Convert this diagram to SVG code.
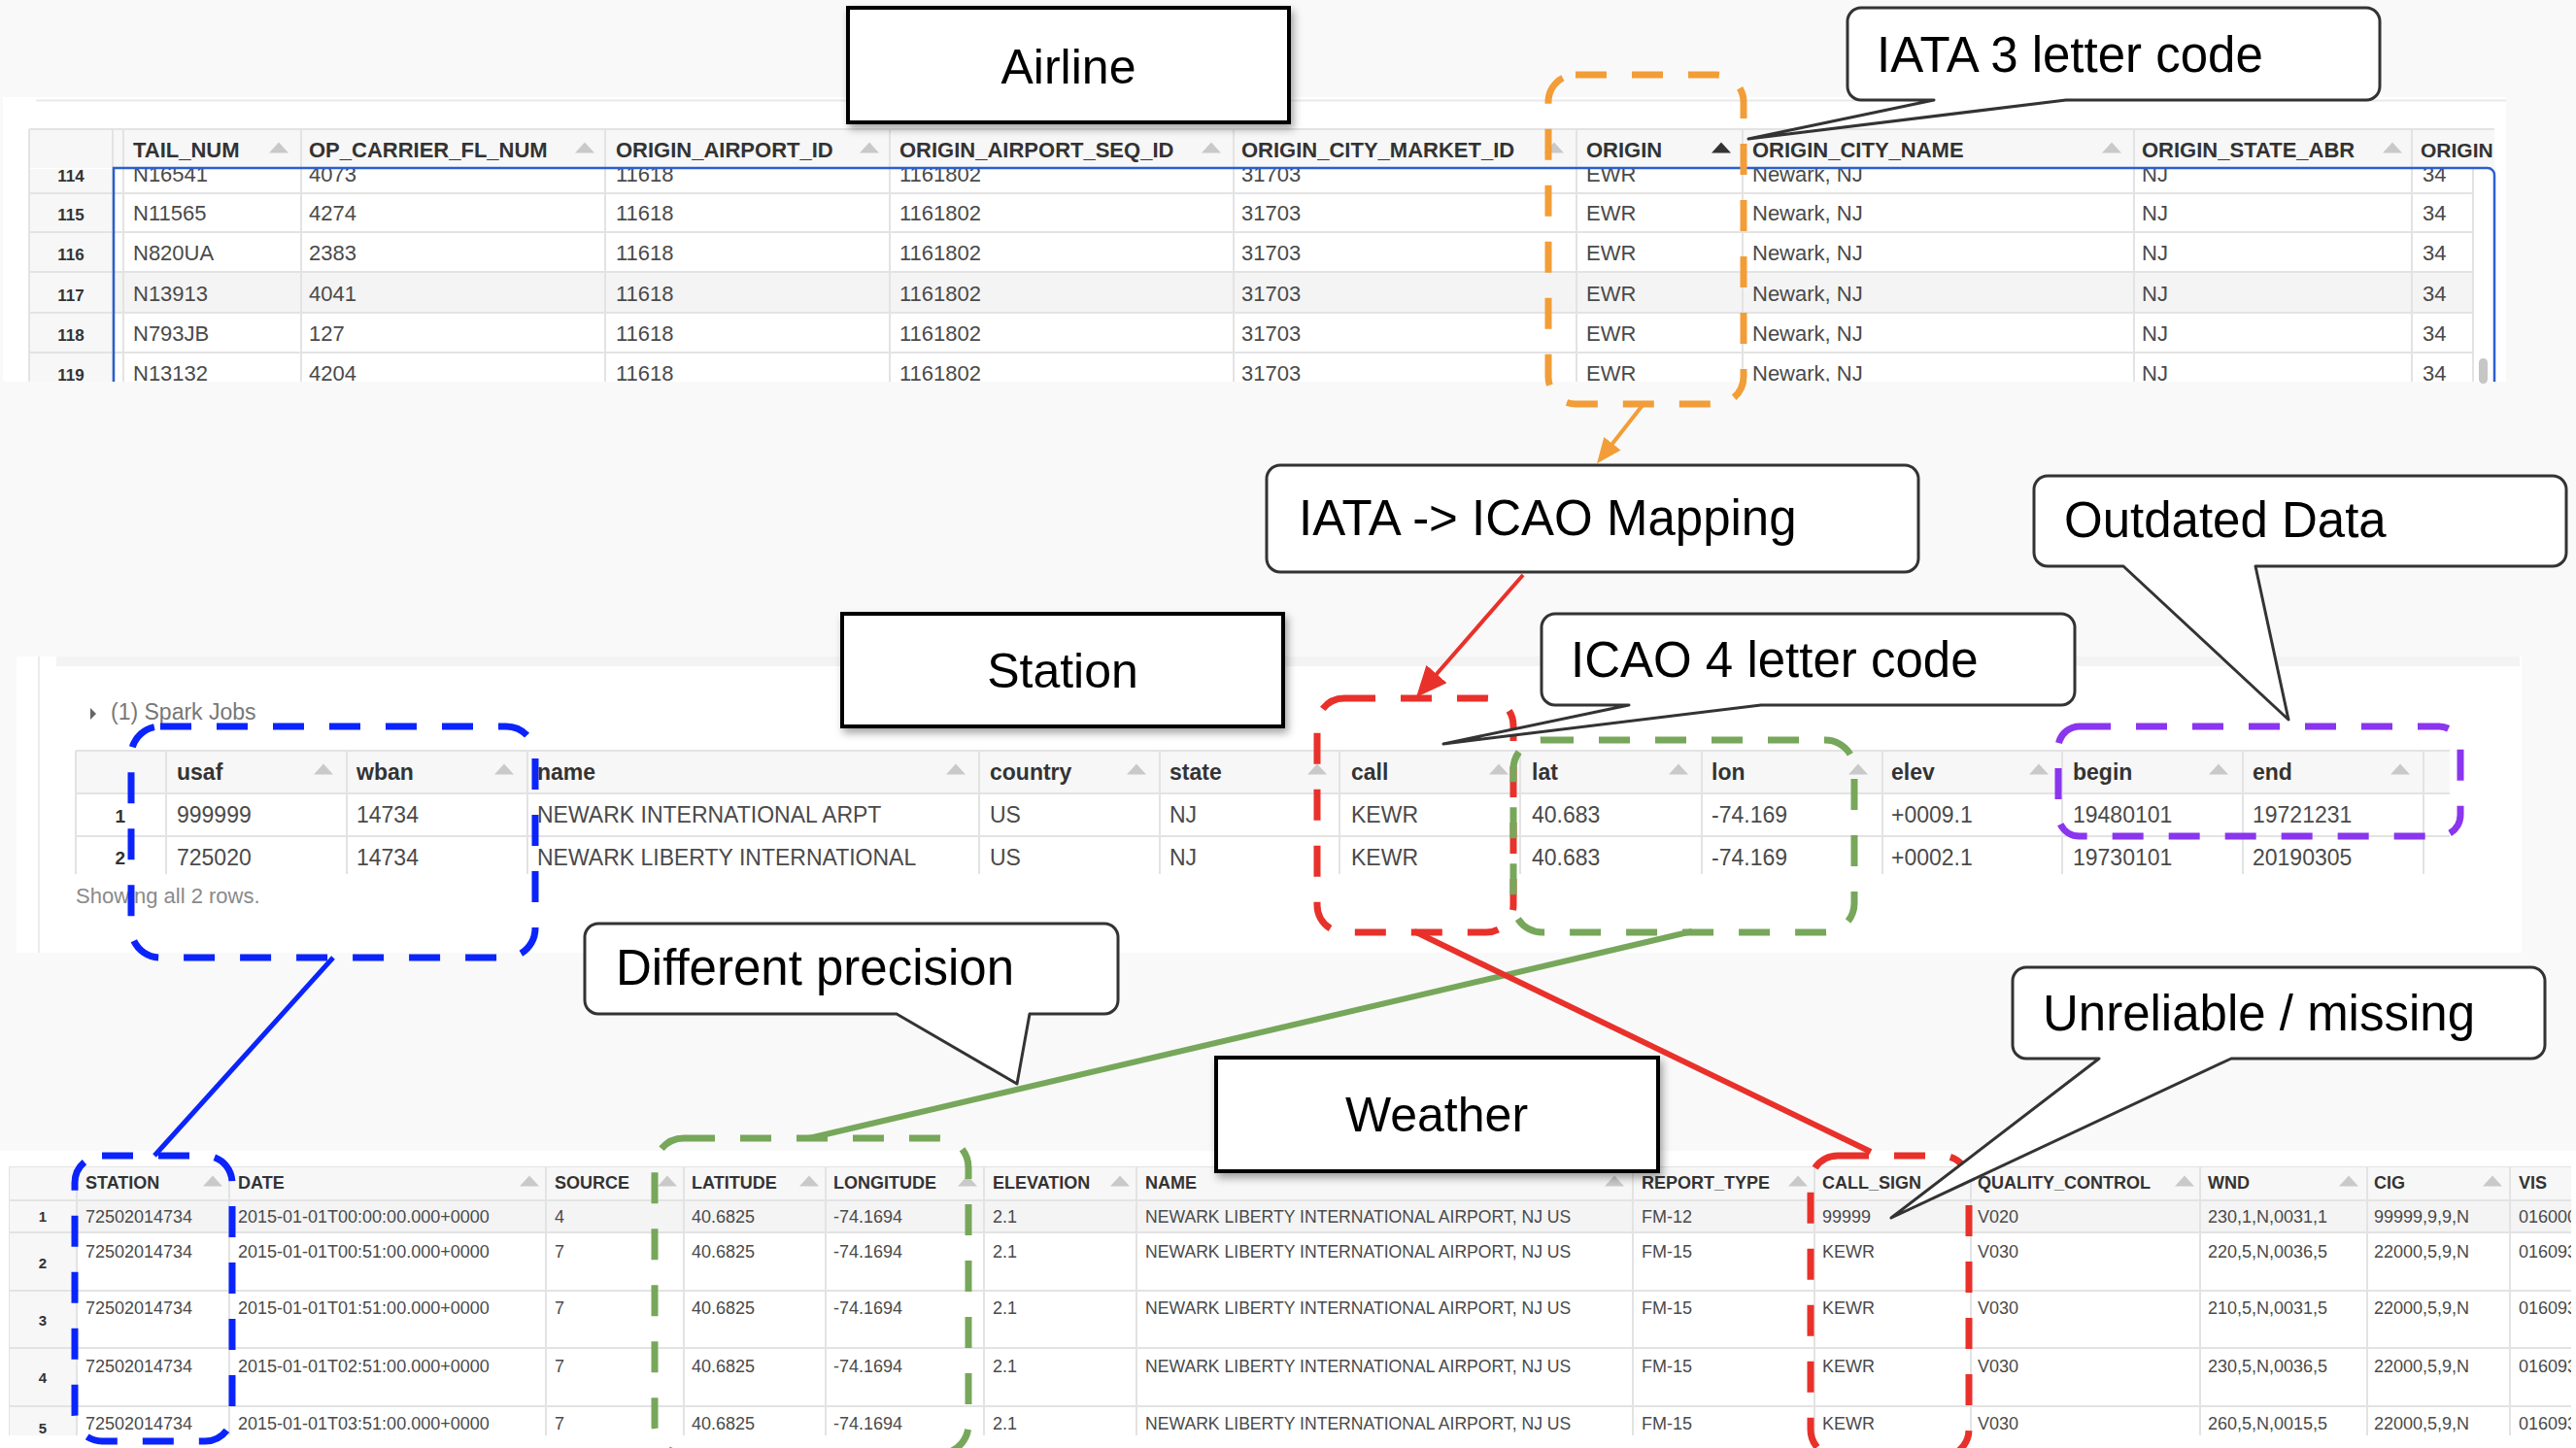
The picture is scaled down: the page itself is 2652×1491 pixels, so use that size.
<svg xmlns="http://www.w3.org/2000/svg" xmlns:xlink="http://www.w3.org/1999/xlink" width="2652" height="1491" viewBox="0 0 2652 1491">
<defs>
<style>
.t{font-family:"Liberation Sans",Arial,Helvetica,sans-serif}
.th{font-family:"Liberation Sans",Arial,sans-serif;font-weight:bold;fill:#333}
.td{font-family:"Liberation Sans",Arial,sans-serif;fill:#4a4a4a}
.rn{font-family:"Liberation Sans",Arial,sans-serif;font-weight:bold;fill:#333;text-anchor:middle}
.g{stroke:#e3e3e3;stroke-width:2;fill:none}
.srt{fill:#c9c9c9}
.tbox{fill:#fff;stroke:#000;stroke-width:4;filter:url(#sh)}
.ttl{font-family:"Liberation Sans",Arial,sans-serif;font-size:50px;fill:#000;text-anchor:middle}
.co{fill:#fff;stroke:#333;stroke-width:3;stroke-linejoin:round}
.cot{font-family:"Liberation Sans",Arial,sans-serif;font-size:51px;fill:#000}
.dash{fill:none;stroke-width:7;stroke-dasharray:32 26}
</style>
<filter id="sh" x="-10%" y="-10%" width="125%" height="135%">
<feDropShadow dx="3" dy="5" stdDeviation="4" flood-color="#000" flood-opacity="0.35"/>
</filter>
<path id="tri" d="M-10,5.5 L10,5.5 L0,-5.5 Z"/>
<marker id="arrO" markerUnits="userSpaceOnUse" markerWidth="28" markerHeight="24" refX="13" refY="11" orient="auto">
<path d="M0,0 L26,11 L0,22 Z" fill="#f29d38"/>
</marker>
<marker id="arrR" markerUnits="userSpaceOnUse" markerWidth="34" markerHeight="30" refX="16" refY="14" orient="auto">
<path d="M0,0 L32,14 L0,28 Z" fill="#e8312a"/>
</marker>
<clipPath id="cTopBody"><rect x="30" y="174" width="2538" height="219"/></clipPath>
<clipPath id="cBot"><rect x="9" y="1201" width="2638" height="277"/></clipPath>
</defs>

<rect width="2652" height="1491" fill="#f9f9f9"/>

<!-- Airline table -->
<g id="airline-table">
<rect x="3" y="100" width="2577" height="293" fill="#fff"/>
<line x1="37" y1="103.5" x2="2580" y2="103.5" stroke="#e9e9e9" stroke-width="2"/>
<rect x="30" y="133" width="2538" height="40" fill="#f7f7f7"/>
<line x1="30" y1="133" x2="2568" y2="133" class="g"/>
<g clip-path="url(#cTopBody)">
<rect x="30" y="174" width="86" height="219" fill="#f7f7f7"/>
<rect x="116" y="280" width="2430" height="42" fill="#f4f4f4"/>
<path class="g" d="M30,199H2546M30,239H2546M30,280H2546M30,322H2546M30,363H2546"/>
<text class="rn" font-size="17"><tspan x="73" y="187">114</tspan><tspan x="73" y="227">115</tspan><tspan x="73" y="268">116</tspan><tspan x="73" y="310">117</tspan><tspan x="73" y="351">118</tspan><tspan x="73" y="392">119</tspan></text>
<g class="td" font-size="22">
<text><tspan x="137" y="187">N16541</tspan><tspan x="137" y="227">N11565</tspan><tspan x="137" y="268">N820UA</tspan><tspan x="137" y="310">N13913</tspan><tspan x="137" y="351">N793JB</tspan><tspan x="137" y="392">N13132</tspan></text>
<text><tspan x="318" y="187">4073</tspan><tspan x="318" y="227">4274</tspan><tspan x="318" y="268">2383</tspan><tspan x="318" y="310">4041</tspan><tspan x="318" y="351">127</tspan><tspan x="318" y="392">4204</tspan></text>
<text><tspan x="634" y="187">11618</tspan><tspan x="634" y="227">11618</tspan><tspan x="634" y="268">11618</tspan><tspan x="634" y="310">11618</tspan><tspan x="634" y="351">11618</tspan><tspan x="634" y="392">11618</tspan></text>
<text><tspan x="926" y="187">1161802</tspan><tspan x="926" y="227">1161802</tspan><tspan x="926" y="268">1161802</tspan><tspan x="926" y="310">1161802</tspan><tspan x="926" y="351">1161802</tspan><tspan x="926" y="392">1161802</tspan></text>
<text><tspan x="1278" y="187">31703</tspan><tspan x="1278" y="227">31703</tspan><tspan x="1278" y="268">31703</tspan><tspan x="1278" y="310">31703</tspan><tspan x="1278" y="351">31703</tspan><tspan x="1278" y="392">31703</tspan></text>
<text><tspan x="1633" y="187">EWR</tspan><tspan x="1633" y="227">EWR</tspan><tspan x="1633" y="268">EWR</tspan><tspan x="1633" y="310">EWR</tspan><tspan x="1633" y="351">EWR</tspan><tspan x="1633" y="392">EWR</tspan></text>
<text><tspan x="1804" y="187">Newark, NJ</tspan><tspan x="1804" y="227">Newark, NJ</tspan><tspan x="1804" y="268">Newark, NJ</tspan><tspan x="1804" y="310">Newark, NJ</tspan><tspan x="1804" y="351">Newark, NJ</tspan><tspan x="1804" y="392">Newark, NJ</tspan></text>
<text><tspan x="2205" y="187">NJ</tspan><tspan x="2205" y="227">NJ</tspan><tspan x="2205" y="268">NJ</tspan><tspan x="2205" y="310">NJ</tspan><tspan x="2205" y="351">NJ</tspan><tspan x="2205" y="392">NJ</tspan></text>
<text><tspan x="2494" y="187">34</tspan><tspan x="2494" y="227">34</tspan><tspan x="2494" y="268">34</tspan><tspan x="2494" y="310">34</tspan><tspan x="2494" y="351">34</tspan><tspan x="2494" y="392">34</tspan></text>
</g>
</g>
<path class="g" d="M30,133V393M116,133V393M127,133V393M310,133V393M623,133V393M916,133V393M1270,133V393M1623,133V393M1794,133V393M2197,133V393M2483,133V393M2546,174V393"/>
<text class="th" font-size="22"><tspan x="137" y="162">TAIL_NUM</tspan><tspan x="318" y="162">OP_CARRIER_FL_NUM</tspan><tspan x="634" y="162">ORIGIN_AIRPORT_ID</tspan><tspan x="926" y="162">ORIGIN_AIRPORT_SEQ_ID</tspan><tspan x="1278" y="162">ORIGIN_CITY_MARKET_ID</tspan><tspan x="1633" y="162">ORIGIN</tspan><tspan x="1804" y="162">ORIGIN_CITY_NAME</tspan><tspan x="2205" y="162">ORIGIN_STATE_ABR</tspan></text>
<text class="th" font-size="21" x="2492" y="162">ORIGIN</text>
<g class="srt">
<use xlink:href="#tri" x="287" y="152"/><use xlink:href="#tri" x="602" y="152"/><use xlink:href="#tri" x="895" y="152"/><use xlink:href="#tri" x="1247" y="152"/><use xlink:href="#tri" x="1600" y="152"/><use xlink:href="#tri" x="2174" y="152"/><use xlink:href="#tri" x="2463" y="152"/>
</g>
<use xlink:href="#tri" x="1772" y="152" fill="#333"/>
<path d="M117,393V173H2561A7,7 0 0 1 2568,180V393" fill="none" stroke="#2b5fd0" stroke-width="2.5"/>
<rect x="2552" y="369" width="9" height="26" rx="4.5" fill="#c6c6c6"/>
</g>

<!-- Station table -->
<g id="station-table">
<rect x="17" y="676" width="2579" height="305" fill="#fff"/>
<rect x="58" y="676" width="2536" height="10" fill="#f3f3f3"/>
<line x1="40" y1="676" x2="40" y2="981" stroke="#ebebeb" stroke-width="2"/>
<path d="M93,729 L99,735 L93,741 Z" fill="#666"/>
<text class="t" x="114" y="741" font-size="23" fill="#777">(1) Spark Jobs</text>
<rect x="78" y="773" width="2444" height="44" fill="#f7f7f7"/>
<path class="g" d="M78,773H2522M78,817H2522M78,861H2522M78,773V900M171,773V900M357,773V900M543,773V900M1008,773V900M1194,773V900M1379,773V900M1565,773V900M1752,773V900M1938,773V900M2123,773V900M2309,773V900M2495,773V900"/>
<text class="th" font-size="23"><tspan x="182" y="803">usaf</tspan><tspan x="367" y="803">wban</tspan><tspan x="553" y="803">name</tspan><tspan x="1019" y="803">country</tspan><tspan x="1204" y="803">state</tspan><tspan x="1391" y="803">call</tspan><tspan x="1577" y="803">lat</tspan><tspan x="1762" y="803">lon</tspan><tspan x="1947" y="803">elev</tspan><tspan x="2134" y="803">begin</tspan><tspan x="2319" y="803">end</tspan></text>
<g class="srt">
<use xlink:href="#tri" x="333" y="792"/><use xlink:href="#tri" x="519" y="792"/><use xlink:href="#tri" x="984" y="792"/><use xlink:href="#tri" x="1170" y="792"/><use xlink:href="#tri" x="1356" y="792"/><use xlink:href="#tri" x="1543" y="792"/><use xlink:href="#tri" x="1728" y="792"/><use xlink:href="#tri" x="1913" y="792"/><use xlink:href="#tri" x="2099" y="792"/><use xlink:href="#tri" x="2284" y="792"/><use xlink:href="#tri" x="2471" y="792"/>
</g>
<text class="th" font-size="19" text-anchor="end"><tspan x="129" y="847">1</tspan><tspan x="129" y="890">2</tspan></text>
<text class="td" font-size="23"><tspan x="182" y="847">999999</tspan><tspan x="367" y="847">14734</tspan><tspan x="553" y="847">NEWARK INTERNATIONAL ARPT</tspan><tspan x="1019" y="847">US</tspan><tspan x="1204" y="847">NJ</tspan><tspan x="1391" y="847">KEWR</tspan><tspan x="1577" y="847">40.683</tspan><tspan x="1762" y="847">-74.169</tspan><tspan x="1947" y="847">+0009.1</tspan><tspan x="2134" y="847">19480101</tspan><tspan x="2319" y="847">19721231</tspan></text>
<text class="td" font-size="23"><tspan x="182" y="891">725020</tspan><tspan x="367" y="891">14734</tspan><tspan x="553" y="891">NEWARK LIBERTY INTERNATIONAL</tspan><tspan x="1019" y="891">US</tspan><tspan x="1204" y="891">NJ</tspan><tspan x="1391" y="891">KEWR</tspan><tspan x="1577" y="891">40.683</tspan><tspan x="1762" y="891">-74.169</tspan><tspan x="1947" y="891">+0002.1</tspan><tspan x="2134" y="891">19730101</tspan><tspan x="2319" y="891">20190305</tspan></text>
<text class="t" x="78" y="930" font-size="22" fill="#8a8a8a">Showing all 2 rows.</text>
</g>

<!-- Weather table -->
<g id="weather-table">
<rect x="0" y="1185" width="2652" height="306" fill="#fff"/>
<g clip-path="url(#cBot)">
<rect x="9" y="1201" width="2643" height="35" fill="#f7f7f7"/>
<rect x="9" y="1236" width="70" height="242" fill="#f7f7f7"/>
<rect x="79" y="1236" width="2573" height="33" fill="#f4f4f4"/>
<path class="g" d="M9,1201H2652M9,1236H2652M9,1269H2652M9,1329H2652M9,1388H2652M9,1448H2652M9,1201V1478M79,1201V1478M236,1201V1478M562,1201V1478M704,1201V1478M850,1201V1478M1013,1201V1478M1170,1201V1478M1681,1201V1478M1868,1201V1478M2029,1201V1478M2265,1201V1478M2437,1201V1478M2584,1201V1478"/>
<text class="th" font-size="18"><tspan x="88" y="1224">STATION</tspan><tspan x="245" y="1224">DATE</tspan><tspan x="571" y="1224">SOURCE</tspan><tspan x="712" y="1224">LATITUDE</tspan><tspan x="858" y="1224">LONGITUDE</tspan><tspan x="1022" y="1224">ELEVATION</tspan><tspan x="1179" y="1224">NAME</tspan><tspan x="1690" y="1224">REPORT_TYPE</tspan><tspan x="1876" y="1224">CALL_SIGN</tspan><tspan x="2036" y="1224">QUALITY_CONTROL</tspan><tspan x="2273" y="1224">WND</tspan><tspan x="2444" y="1224">CIG</tspan><tspan x="2593" y="1224">VIS</tspan></text>
<g class="srt">
<use xlink:href="#tri" x="219" y="1216"/><use xlink:href="#tri" x="545" y="1216"/><use xlink:href="#tri" x="687" y="1216"/><use xlink:href="#tri" x="833" y="1216"/><use xlink:href="#tri" x="996" y="1216"/><use xlink:href="#tri" x="1153" y="1216"/><use xlink:href="#tri" x="1662" y="1216"/><use xlink:href="#tri" x="1851" y="1216"/><use xlink:href="#tri" x="2012" y="1216"/><use xlink:href="#tri" x="2249" y="1216"/><use xlink:href="#tri" x="2418" y="1216"/><use xlink:href="#tri" x="2566" y="1216"/>
</g>
<text class="rn" font-size="15"><tspan x="44" y="1258">1</tspan><tspan x="44" y="1306">2</tspan><tspan x="44" y="1365">3</tspan><tspan x="44" y="1424">4</tspan><tspan x="44" y="1476">5</tspan></text>
<g class="td" font-size="18">
<text><tspan x="88" y="1259">72502014734</tspan><tspan x="88" y="1295">72502014734</tspan><tspan x="88" y="1353">72502014734</tspan><tspan x="88" y="1413">72502014734</tspan><tspan x="88" y="1472">72502014734</tspan></text>
<text><tspan x="245" y="1259">2015-01-01T00:00:00.000+0000</tspan><tspan x="245" y="1295">2015-01-01T00:51:00.000+0000</tspan><tspan x="245" y="1353">2015-01-01T01:51:00.000+0000</tspan><tspan x="245" y="1413">2015-01-01T02:51:00.000+0000</tspan><tspan x="245" y="1472">2015-01-01T03:51:00.000+0000</tspan></text>
<text><tspan x="571" y="1259">4</tspan><tspan x="571" y="1295">7</tspan><tspan x="571" y="1353">7</tspan><tspan x="571" y="1413">7</tspan><tspan x="571" y="1472">7</tspan></text>
<text><tspan x="712" y="1259">40.6825</tspan><tspan x="712" y="1295">40.6825</tspan><tspan x="712" y="1353">40.6825</tspan><tspan x="712" y="1413">40.6825</tspan><tspan x="712" y="1472">40.6825</tspan></text>
<text><tspan x="858" y="1259">-74.1694</tspan><tspan x="858" y="1295">-74.1694</tspan><tspan x="858" y="1353">-74.1694</tspan><tspan x="858" y="1413">-74.1694</tspan><tspan x="858" y="1472">-74.1694</tspan></text>
<text><tspan x="1022" y="1259">2.1</tspan><tspan x="1022" y="1295">2.1</tspan><tspan x="1022" y="1353">2.1</tspan><tspan x="1022" y="1413">2.1</tspan><tspan x="1022" y="1472">2.1</tspan></text>
<text font-size="17.6"><tspan x="1179" y="1259">NEWARK LIBERTY INTERNATIONAL AIRPORT, NJ US</tspan><tspan x="1179" y="1295">NEWARK LIBERTY INTERNATIONAL AIRPORT, NJ US</tspan><tspan x="1179" y="1353">NEWARK LIBERTY INTERNATIONAL AIRPORT, NJ US</tspan><tspan x="1179" y="1413">NEWARK LIBERTY INTERNATIONAL AIRPORT, NJ US</tspan><tspan x="1179" y="1472">NEWARK LIBERTY INTERNATIONAL AIRPORT, NJ US</tspan></text>
<text><tspan x="1690" y="1259">FM-12</tspan><tspan x="1690" y="1295">FM-15</tspan><tspan x="1690" y="1353">FM-15</tspan><tspan x="1690" y="1413">FM-15</tspan><tspan x="1690" y="1472">FM-15</tspan></text>
<text><tspan x="1876" y="1259">99999</tspan><tspan x="1876" y="1295">KEWR</tspan><tspan x="1876" y="1353">KEWR</tspan><tspan x="1876" y="1413">KEWR</tspan><tspan x="1876" y="1472">KEWR</tspan></text>
<text><tspan x="2036" y="1259">V020</tspan><tspan x="2036" y="1295">V030</tspan><tspan x="2036" y="1353">V030</tspan><tspan x="2036" y="1413">V030</tspan><tspan x="2036" y="1472">V030</tspan></text>
<text><tspan x="2273" y="1259">230,1,N,0031,1</tspan><tspan x="2273" y="1295">220,5,N,0036,5</tspan><tspan x="2273" y="1353">210,5,N,0031,5</tspan><tspan x="2273" y="1413">230,5,N,0036,5</tspan><tspan x="2273" y="1472">260,5,N,0015,5</tspan></text>
<text><tspan x="2444" y="1259">99999,9,9,N</tspan><tspan x="2444" y="1295">22000,5,9,N</tspan><tspan x="2444" y="1353">22000,5,9,N</tspan><tspan x="2444" y="1413">22000,5,9,N</tspan><tspan x="2444" y="1472">22000,5,9,N</tspan></text>
<text><tspan x="2593" y="1259">016000</tspan><tspan x="2593" y="1295">016093</tspan><tspan x="2593" y="1353">016093</tspan><tspan x="2593" y="1413">016093</tspan><tspan x="2593" y="1472">016093</tspan></text>
</g>
</g>
</g>

<!-- Highlight regions -->
<g id="highlights">
<rect id="hl-origin" class="dash" x="1594" y="77" width="201" height="339" rx="28" stroke="#f29d38"/>
<rect id="hl-usaf-wban" class="dash" x="135" y="748" width="416" height="238" rx="30" stroke="#0b24fb"/>
<rect id="hl-call" class="dash" x="1356" y="719" width="202" height="241" rx="28" stroke="#e8312a"/>
<rect id="hl-latlon" class="dash" x="1558" y="762" width="351" height="198" rx="30" stroke="#77a75a"/>
<rect id="hl-dates" class="dash" x="2119" y="748" width="414" height="113" rx="22" stroke="#8a35ee"/>
<rect id="hl-station" class="dash" x="77" y="1190" width="162" height="294" rx="28" stroke="#0b24fb"/>
<rect id="hl-latlon-w" class="dash" x="674" y="1172" width="323" height="325" rx="30" stroke="#77a75a"/>
<rect id="hl-callsign" class="dash" x="1864" y="1190" width="163" height="310" rx="28" stroke="#e8312a"/>
</g>

<!-- Connectors -->
<g id="connectors" fill="none">
<line x1="1692" y1="416" x2="1652" y2="467" stroke="#f29d38" stroke-width="4" marker-end="url(#arrO)"/>
<line x1="1568" y1="592" x2="1468.5" y2="706" stroke="#e8312a" stroke-width="4" marker-end="url(#arrR)"/>
<line x1="343" y1="986" x2="159" y2="1190" stroke="#0b24fb" stroke-width="5"/>
<line x1="1742" y1="959" x2="833" y2="1172" stroke="#77a75a" stroke-width="6"/>
<line x1="1456" y1="959" x2="1926" y2="1186" stroke="#e8312a" stroke-width="6"/>
</g>

<!-- Title boxes -->
<g id="node-airline">
<rect class="tbox" x="873" y="8" width="454" height="118"/>
<text class="ttl" x="1100" y="86">Airline</text>
</g>
<g id="node-station">
<rect class="tbox" x="867" y="632" width="454" height="116"/>
<text class="ttl" x="1094" y="708">Station</text>
</g>
<g id="node-weather">
<rect class="tbox" x="1252" y="1089" width="455" height="117"/>
<text class="ttl" x="1479" y="1165">Weather</text>
</g>

<!-- Callouts -->
<g id="callout-iata">
<path class="co" d="M1916,8H2436A14,14 0 0 1 2450,22V89A14,14 0 0 1 2436,103H2127L1800,143L1991,103H1916A14,14 0 0 1 1902,89V22A14,14 0 0 1 1916,8Z"/>
<text class="cot" x="1932" y="74">IATA 3 letter code</text>
</g>
<g id="node-mapping">
<rect class="co" x="1304" y="479" width="671" height="110" rx="14"/>
<text class="cot" x="1337" y="551">IATA -&gt; ICAO Mapping</text>
</g>
<g id="callout-outdated">
<path class="co" d="M2108,490H2628A14,14 0 0 1 2642,504V569A14,14 0 0 1 2628,583H2322L2356,741L2186,583H2108A14,14 0 0 1 2094,569V504A14,14 0 0 1 2108,490Z"/>
<text class="cot" x="2125" y="553">Outdated Data</text>
</g>
<g id="callout-icao">
<path class="co" d="M1601,632H2122A14,14 0 0 1 2136,646V712A14,14 0 0 1 2122,726H1813L1486,766L1677,726H1601A14,14 0 0 1 1587,712V646A14,14 0 0 1 1601,632Z"/>
<text class="cot" x="1617" y="697">ICAO 4 letter code</text>
</g>
<g id="callout-precision">
<path class="co" d="M616,951H1137A14,14 0 0 1 1151,965V1030A14,14 0 0 1 1137,1044H1060L1047,1116L923,1044H616A14,14 0 0 1 602,1030V965A14,14 0 0 1 616,951Z"/>
<text class="cot" x="634" y="1014">Different precision</text>
</g>
<g id="callout-unreliable">
<path class="co" d="M2086,996H2606A14,14 0 0 1 2620,1010V1076A14,14 0 0 1 2606,1090H2297L1947,1254L2161,1090H2086A14,14 0 0 1 2072,1076V1010A14,14 0 0 1 2086,996Z"/>
<text class="cot" x="2103" y="1061">Unreliable / missing</text>
</g>
</svg>
